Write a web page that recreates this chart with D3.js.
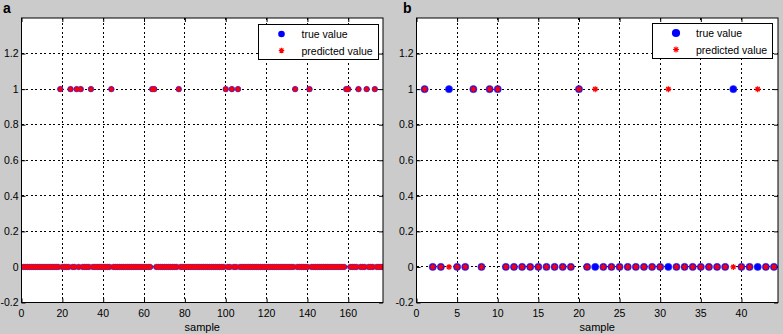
<!DOCTYPE html>
<html><head><meta charset="utf-8">
<script src="https://cdn.jsdelivr.net/npm/d3@7"></script>
<style>html,body{margin:0;padding:0;background:#cbcbcb;}svg{display:block;}</style>
</head><body>
<svg id="chart" width="783" height="334"></svg>
<script>
// ---- data ----
const trueA = [
0,0,0,0,0,0,0,0,0,0,0,0,0,0,0,0,0,0,1,0,
0,0,0,1,0,0,1,0,1,0,0,0,0,1,0,0,0,0,0,0,
0,0,0,1,0,0,0,0,0,0,0,0,0,0,0,0,0,0,0,0,
0,0,0,1,1,0,0,0,0,0,0,0,0,0,0,0,1,0,0,0,
0,0,0,0,0,0,0,0,0,0,0,0,0,0,0,0,0,0,0,1,
0,0,1,0,0,1,0,0,0,0,0,0,0,0,0,0,0,0,0,0,
0,0,0,0,0,0,0,0,0,0,0,0,0,1,0,0,0,0,0,0,
1,0,0,0,0,0,0,0,0,0,0,0,0,0,0,0,0,0,1,1,
0,0,0,0,1,0,0,0,1,0,0,0,1,0,0,0,0];
const predA = [
0,0,0,0,0,0,0,0,0,0,0,0,0,0,0,0,0,0,1,0,
0,0,0,1,0,0,1,0,1,0,0,0,0,1,0,0,0,0,0,0,
0,0,0,1,0,0,0,0,0,0,0,0,0,0,0,0,0,0,0,0,
0,0,0,1,1,0,0,0,0,0,0,0,0,0,0,0,1,0,0,0,
0,0,0,0,0,0,0,0,0,0,0,0,0,0,0,0,0,0,0,1,
0,0,1,0,0,1,0,0,0,0,0,0,0,0,0,0,0,0,0,0,
0,0,0,0,0,0,0,0,0,0,0,0,0,1,0,0,0,0,0,0,
1,0,0,0,0,0,0,0,0,0,0,0,0,0,0,0,0,0,1,1,
0,0,0,0,1,0,0,0,1,0,0,0,1,0,0,0,0];
const trueB = [
1,0,0,1,0,0,1,0,1,1,
0,0,0,0,0,0,0,0,0,1,
0,0,0,0,0,0,0,0,0,0,
0,0,0,0,0,0,0,0,1,0,
0,0,0,0];
const predB = [
1,0,0,0,0,0,1,0,1,1,
0,0,0,0,0,0,0,0,0,1,
0,1,0,0,0,0,0,0,0,0,
1,0,0,0,0,0,0,0,0,0,
0,1,0,0];
const xTicksA = [0,20,40,60,80,100,120,140,160];
const xTicksB = [0,5,10,15,20,25,30,35,40];
const yTicks = [-0.2,0,0.2,0.4,0.6,0.8,1,1.2];
const legendLabels = ["true value","predicted value"];
const panelLabels = ["a","b"];
const xLabel = "sample";

// ---- drawing ----
const svg = d3.select("#chart");
const FONT = "'Liberation Sans', Arial, sans-serif";

function panel(cfg){
  const g = svg.append("g");
  const x = d3.scaleLinear().domain(cfg.xDomain).range([cfg.left, cfg.right]);
  const y = d3.scaleLinear().domain([-0.2,1.4]).range([cfg.bottom, cfg.top]);
  g.append("rect").attr("x",cfg.left).attr("y",cfg.top)
    .attr("width",cfg.right-cfg.left).attr("height",cfg.bottom-cfg.top)
    .attr("fill","#fff");
  // grid
  g.append("g").selectAll("line").data(cfg.xTicks).join("line")
    .attr("x1",d=>x(d)).attr("x2",d=>x(d)).attr("y1",cfg.top).attr("y2",cfg.bottom)
    .attr("stroke","#000").attr("stroke-width",1).attr("stroke-dasharray","2,2.5")
    .attr("shape-rendering","crispEdges");
  g.append("g").selectAll("line").data(yTicks).join("line")
    .attr("y1",d=>y(d)).attr("y2",d=>y(d)).attr("x1",cfg.left).attr("x2",cfg.right)
    .attr("stroke","#000").attr("stroke-width",1).attr("stroke-dasharray","2,2.5")
    .attr("shape-rendering","crispEdges");
  // axes (ticks inward)
  const ax = g.append("g").attr("transform",`translate(0,${cfg.bottom})`)
    .call(d3.axisTop(x).tickValues(cfg.xTicks).tickSize(4).tickFormat(""));
  const axt = g.append("g").attr("transform",`translate(0,${cfg.top})`)
    .call(d3.axisBottom(x).tickValues(cfg.xTicks).tickSize(4).tickFormat(""));
  const ay = g.append("g").attr("transform",`translate(${cfg.left},0)`)
    .call(d3.axisRight(y).tickValues(yTicks).tickSize(4).tickFormat(""));
  const ayr = g.append("g").attr("transform",`translate(${cfg.right},0)`)
    .call(d3.axisLeft(y).tickValues(yTicks).tickSize(4).tickFormat(""));
  [ax,axt,ay,ayr].forEach(a=>{a.select(".domain").remove(); a.selectAll("line").attr("stroke","#000");});
  // tick labels
  g.append("g").selectAll("text").data(cfg.xTicks).join("text")
    .attr("x",d=>x(d)).attr("y",cfg.bottom+14).attr("text-anchor","middle")
    .attr("font-family",FONT).attr("font-size",10.5).attr("fill","#000")
    .text(d=>d);
  g.append("g").selectAll("text").data(yTicks).join("text")
    .attr("x",cfg.left-3).attr("y",d=>y(d)+3.7).attr("text-anchor","end")
    .attr("font-family",FONT).attr("font-size",10.5).attr("fill","#000")
    .text(d=>String(+d.toFixed(1)));
  g.append("text").attr("x",(cfg.left+cfg.right)/2).attr("y",cfg.bottom+28.5)
    .attr("text-anchor","middle").attr("font-family",FONT).attr("font-size",11)
    .text(xLabel);
  // points
  const clipId = "clip"+cfg.id;
  svg.append("clipPath").attr("id",clipId).append("rect")
    .attr("x",cfg.left).attr("y",cfg.top).attr("width",cfg.right-cfg.left).attr("height",cfg.bottom-cfg.top);
  const pts = g.append("g").attr("clip-path",`url(#${clipId})`);
  const idx = d3.range(1, cfg.trueV.length+1);
  pts.selectAll("circle").data(cfg.trueV).join("circle")
    .attr("cx",(d,i)=>x(idx[i])).attr("cy",d=>y(d)).attr("r",cfg.r)
    .attr("fill","#0000ff").attr("stroke","#3a3aff").attr("stroke-width",0.6);
  const s = cfg.s;
  const star = `M${-s},0L${s},0M0,${-s}L0,${s}M${-s*0.7},${-s*0.7}L${s*0.7},${s*0.7}M${-s*0.7},${s*0.7}L${s*0.7},${-s*0.7}`;
  pts.selectAll("path.star").data(cfg.predV).join("path").attr("class","star")
    .attr("transform",(d,i)=>`translate(${x(idx[i])},${y(d)})`)
    .attr("d",star).attr("stroke","#ff0000").attr("stroke-width",1.2).attr("fill","none");
  // frame
  g.append("rect").attr("x",cfg.left).attr("y",cfg.top)
    .attr("width",cfg.right-cfg.left).attr("height",cfg.bottom-cfg.top)
    .attr("fill","none").attr("stroke","#000").attr("stroke-width",1);
  // legend
  const L = cfg.legend;
  const lg = g.append("g");
  lg.append("rect").attr("x",L.x).attr("y",L.y).attr("width",L.w).attr("height",L.h)
    .attr("fill","#fff").attr("stroke","#000").attr("stroke-width",1);
  lg.append("circle").attr("cx",L.mx).attr("cy",L.y+9.5).attr("r",cfg.r+0.5).attr("fill","#0000ff");
  lg.append("path").attr("transform",`translate(${L.mx},${L.y+26})`).attr("d",star)
    .attr("stroke","#ff0000").attr("stroke-width",1.2).attr("fill","none");
  lg.selectAll("text").data(legendLabels).join("text")
    .attr("x",L.tx).attr("y",(d,i)=>L.y+13.5+i*16.5)
    .attr("font-family",FONT).attr("font-size",10.5).attr("fill","#000").text(d=>d);
  // panel label
  svg.append("text").attr("x",cfg.labelX).attr("y",13).attr("font-family",FONT)
    .attr("font-weight","bold").attr("font-size",14).text(cfg.label);
}

panel({id:"a", label:panelLabels[0], labelX:3, xDomain:[0,177], xTicks:xTicksA,
  left:21.5, right:383, top:18, bottom:302.5, trueV:trueA, predV:predA, r:2.8, s:2.8,
  legend:{x:258.5, y:24.5, w:120, h:35, mx:281.5, tx:301.5}});
panel({id:"b", label:panelLabels[1], labelX:403, xDomain:[0,44.5], xTicks:xTicksB,
  left:416.5, right:778, top:18, bottom:302.5, trueV:trueB, predV:predB, r:3.6, s:3,
  legend:{x:652.5, y:23.5, w:120, h:35, mx:676, tx:696}});
</script>
</body></html>
